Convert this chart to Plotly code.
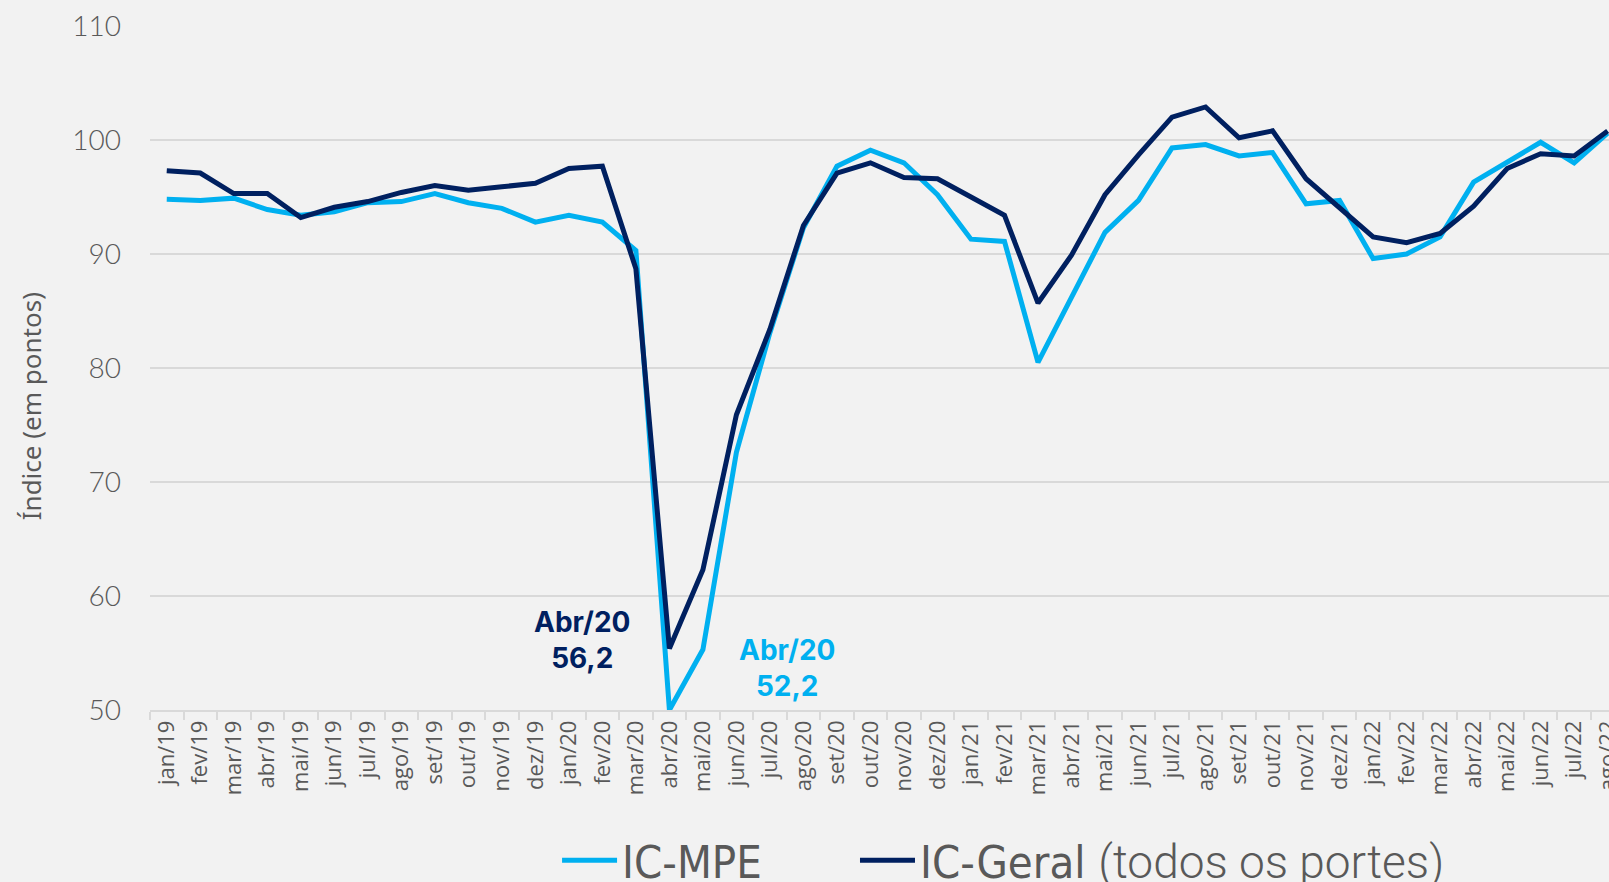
import plotly.graph_objects as go

months = ["jan/19", "fev/19", "mar/19", "abr/19", "mai/19", "jun/19", "jul/19", "ago/19",
          "set/19", "out/19", "nov/19", "dez/19",
          "jan/20", "fev/20", "mar/20", "abr/20", "mai/20", "jun/20", "jul/20", "ago/20",
          "set/20", "out/20", "nov/20", "dez/20",
          "jan/21", "fev/21", "mar/21", "abr/21", "mai/21", "jun/21", "jul/21", "ago/21",
          "set/21", "out/21", "nov/21", "dez/21",
          "jan/22", "fev/22", "mar/22", "abr/22", "mai/22", "jun/22", "jul/22", "ago/22"]

ic_mpe = [94.8, 94.7, 94.9, 93.9, 93.4, 93.7, 94.5, 94.6, 95.3, 94.5, 94.0, 92.8,
          93.4, 92.8, 90.3, 50.0, 55.3, 72.6, 83.1, 92.3, 97.7, 99.1, 98.0, 95.2,
          91.3, 91.1, 80.5, 86.1, 91.9, 94.7, 99.3, 99.6, 98.6, 98.9, 94.4, 94.7,
          89.6, 90.0, 91.5, 96.3, 98.1, 99.8, 98.0, 100.6]

ic_geral = [97.3, 97.1, 95.3, 95.3, 93.2, 94.1, 94.6, 95.4, 96.0, 95.6, 95.9, 96.2,
            97.5, 97.7, 88.7, 55.4, 62.3, 75.9, 83.4, 92.5, 97.1, 98.0, 96.7, 96.6,
            95.0, 93.4, 85.7, 89.9, 95.2, 98.7, 102.0, 102.9, 100.2, 100.8, 96.6, 94.1,
            91.5, 91.0, 91.8, 94.2, 97.5, 98.8, 98.6, 100.8]

y_ticks = [50, 60, 70, 80, 90, 100, 110]

CYAN = "#00B0F0"
NAVY = "#002060"
GRAY = "#595959"
GRID = "#d9d9d9"
BG = "#f2f2f2"

LEG_FONT = "Liberation Sans Narrow, DejaVu Sans Condensed, sans-serif"

fig = go.Figure()
fig.add_trace(go.Scatter(x=months, y=ic_mpe, mode="lines", name="IC-MPE",
                         line=dict(color=CYAN, width=5), cliponaxis=False,
                         legend="legend"))
fig.add_trace(go.Scatter(
    x=months, y=ic_geral, mode="lines",
    name="IC-Geral&nbsp;<span style='font-family:Roboto;font-weight:300;font-size:46px'>(todos os portes)</span>",
    line=dict(color=NAVY, width=5), cliponaxis=False, legend="legend2"))

i_abr = months.index("abr/20")
fig.add_annotation(x=months[i_abr], y=ic_geral[i_abr], xref="x", yref="y",
                   text="<b>Abr/20<br>56,2</b>", showarrow=False,
                   xshift=-87, yshift=8,
                   font=dict(family="Inter, Lato, sans-serif", size=28, color=NAVY))
fig.add_annotation(x=months[i_abr], y=ic_mpe[i_abr], xref="x", yref="y",
                   text="<b>Abr/20<br>52,2</b>", showarrow=False,
                   xshift=118, yshift=42,
                   font=dict(family="Inter, Lato, sans-serif", size=28, color=CYAN))

# y axis title placed as an annotation (it is not centred on the plot in the reference)
fig.add_annotation(x=-0.0816, y=0.444, xref="paper", yref="paper",
                   text="Índice (em pontos)", textangle=-90, showarrow=False,
                   xanchor="center", yanchor="middle",
                   font=dict(family="Noto Sans, sans-serif", size=26, color=GRAY))

leg_common = dict(orientation="h", xanchor="left", y=-0.22, yanchor="middle",
                  font=dict(family=LEG_FONT, size=45, color=GRAY),
                  bgcolor="rgba(0,0,0,0)", itemwidth=55)

fig.update_layout(
    width=1609, height=882,
    margin=dict(l=150, r=0, t=26, b=172, autoexpand=False),
    paper_bgcolor=BG, plot_bgcolor=BG,
    showlegend=True,
    hovermode=False,
    legend=dict(x=0.279, **leg_common),
    legend2=dict(x=0.4832, **leg_common),
    xaxis=dict(type="category", range=[-0.5, 43.04], showgrid=False,
               showline=True, linecolor=GRID, linewidth=1.5,
               ticks="outside", tickson="boundaries", ticklen=8, tickcolor=GRID,
               tickwidth=1.5, tickangle=-90,
               tickfont=dict(family="Open Sans, sans-serif", size=22, color=GRAY),
               zeroline=False),
    yaxis=dict(range=[50, 110], tickvals=y_ticks, showgrid=True, gridcolor=GRID,
               gridwidth=1.5, zeroline=False, showline=False, ticks="",
               ticklabelstandoff=28,
               tickfont=dict(family="Lato, sans-serif", size=28, color=GRAY, weight=300)),
)

fig.write_html("out.html", config={"displayModeBar": False},
               post_script="document.body.style.margin='0px';")
